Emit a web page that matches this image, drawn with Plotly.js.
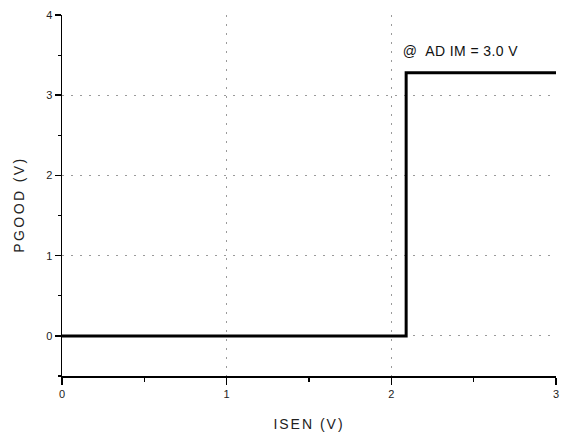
<!DOCTYPE html>
<html>
<head>
<meta charset="utf-8">
<script src="https://cdn.plot.ly/plotly-3.0.1.min.js"></script>
<style>
html,body{margin:0;padding:0;background:#fff;}
#chart{width:563px;height:437px;}
.g-xtitle text{letter-spacing:2px;}
.annotation[data-index="0"] text{letter-spacing:2.4px;}
.annotation[data-index="1"] text{letter-spacing:0.4px;}
</style>
</head>
<body>
<div id="chart"></div>
<script>
// Data
var isenV = [0, 2.09, 3];
var pgoodV = [0, 3.28, 3.28];
var xTickVals = [0, 1, 2, 3];
var yTickVals = [0, 1, 2, 3, 4];
var xGridVals = [1, 2];
var yGridVals = [0, 1, 2, 3];
var xTitle = "ISEN (V)";
var yTitle = "PGOOD (V)";
var noteText = "@  AD IM = 3.0 V";

var font = "Liberation Sans, Arial, sans-serif";
var gridStyle = {color: "#9a9a9a", width: 1, dash: "2px,7px"};

var traces = [{
  x: isenV, y: pgoodV, type: "scatter", mode: "lines",
  line: {color: "#000", width: 3, shape: "hv"},
  hoverinfo: "skip", showlegend: false
}, {
  x: [null], y: [null], xaxis: "x2", yaxis: "y2", type: "scatter",
  mode: "lines", showlegend: false, hoverinfo: "skip"
}];

var layout = {
  width: 563, height: 437,
  margin: {l: 62, r: 7, t: 15, b: 61},
  paper_bgcolor: "#fff", plot_bgcolor: "rgba(0,0,0,0)",
  showlegend: false,
  font: {family: font, color: "#222"},
  xaxis: {
    range: [0, 3], tickvals: xTickVals, ticktext: xTickVals.map(String),
    showgrid: false, zeroline: false, showline: true, linecolor: "#000", linewidth: 1.5,
    ticks: "outside", ticklen: 7, tickwidth: 1.5, tickcolor: "#000",
    minor: {dtick: 0.5, ticks: "outside", ticklen: 4, tickwidth: 1.2, tickcolor: "#000", showgrid: false},
    tickfont: {size: 11, color: "#222"},
    title: {text: xTitle, font: {size: 14, color: "#222"}, standoff: 20}
  },
  yaxis: {
    range: [-0.5, 4], tickvals: yTickVals, ticktext: yTickVals.map(String),
    showgrid: false, zeroline: false, showline: true, linecolor: "#000", linewidth: 1.5,
    ticks: "outside", ticklen: 6, tickwidth: 1.5, tickcolor: "#000",
    minor: {dtick: 0.5, ticks: "outside", ticklen: 3, tickwidth: 1.2, tickcolor: "#000", showgrid: false},
    tickfont: {size: 11, color: "#222"}
  },
  xaxis2: {
    overlaying: "x", range: [0, 3], tickvals: xGridVals, showticklabels: false,
    ticks: "", showgrid: true, gridcolor: gridStyle.color, gridwidth: gridStyle.width,
    griddash: gridStyle.dash, zeroline: false, showline: false
  },
  yaxis2: {
    overlaying: "y", range: [-0.5, 4], tickvals: yGridVals, showticklabels: false,
    ticks: "", showgrid: true, gridcolor: gridStyle.color, gridwidth: gridStyle.width,
    griddash: gridStyle.dash, zeroline: false, showline: false
  },
  annotations: [{
    x: 0, y: 0.474, xref: "paper", yref: "paper", xanchor: "center", yanchor: "middle",
    xshift: -43, textangle: -90, text: yTitle, showarrow: false,
    font: {size: 14, color: "#222", family: font}
  }, {
    x: 2.09, y: 3.6, xref: "x", yref: "y", xanchor: "left", yanchor: "middle",
    xshift: -2, yshift: -4, text: noteText, showarrow: false,
    font: {size: 14, color: "#111", family: font}
  }]
};

Plotly.newPlot("chart", traces, layout, {displayModeBar: false, staticPlot: true});
</script>
</body>
</html>
